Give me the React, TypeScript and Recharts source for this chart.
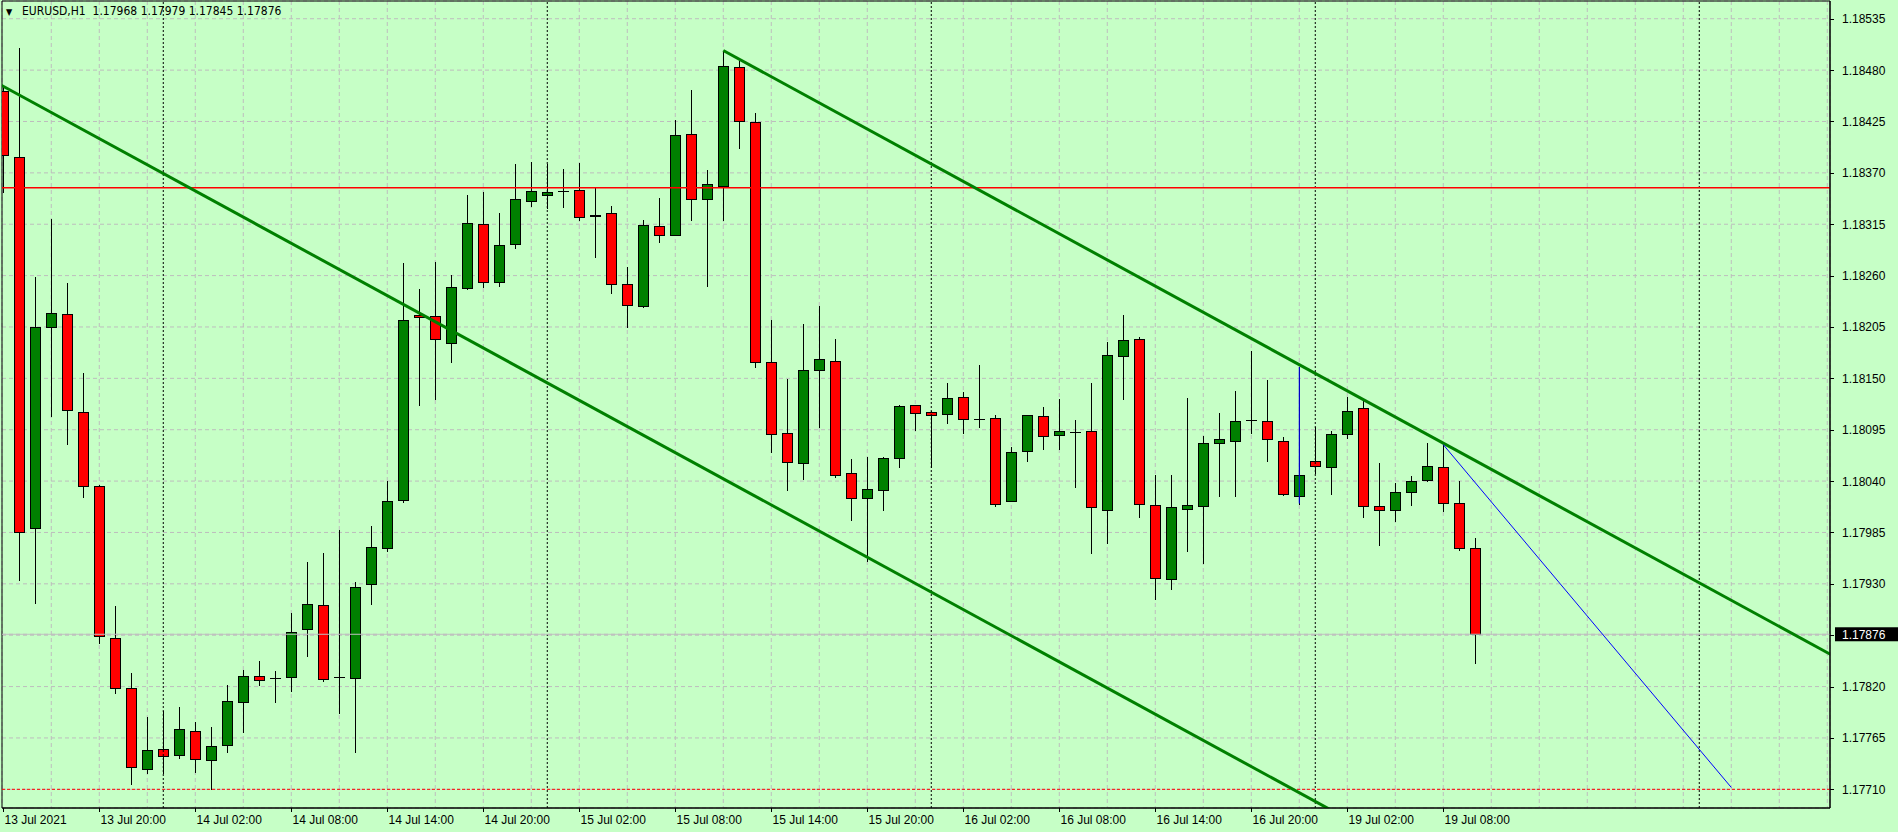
import React from "react";
import {
  Bar,
  CartesianGrid,
  ComposedChart,
  ReferenceArea,
  ReferenceLine,
  XAxis,
  YAxis,
} from "recharts";

// EURUSD H1, bar 0 = 13 Jul 14:00
const OPEN = [
  1.18458, 1.18387, 1.1799, 1.18205, 1.18219, 1.18114, 1.18035, 1.17872, 1.17819, 1.17732,
  1.17753, 1.17747, 1.17772, 1.17741, 1.17757, 1.17804, 1.17831, 1.17829, 1.1783, 1.17882,
  1.17907, 1.1783, 1.17829, 1.1793, 1.17968, 1.1802, 1.18218, 1.18217, 1.18188, 1.18247,
  1.18315, 1.18253, 1.18294, 1.1834, 1.18346, 1.18351, 1.18352, 1.18324, 1.18327, 1.18251,
  1.18227, 1.18313, 1.18304, 1.18412, 1.18342, 1.18356, 1.18483, 1.18424, 1.18167, 1.18092,
  1.18059, 1.18159, 1.18169, 1.18049, 1.18022, 1.1803, 1.18065, 1.18121, 1.18114, 1.18112,
  1.1813, 1.18107, 1.18108, 1.18019, 1.18072, 1.1811, 1.18089, 1.18093, 1.18094, 1.18009,
  1.18174, 1.18192, 1.18014, 1.17935, 1.1801, 1.18013, 1.18081, 1.18083, 1.18105, 1.18104,
  1.18083, 1.18024, 1.18062, 1.18055, 1.1809, 1.18118, 1.18013, 1.18009, 1.18028, 1.18041,
  1.18055, 1.18017, 1.17968,
];
const HIGH = [
  1.18462, 1.18504, 1.18258, 1.18321, 1.18252, 1.18156, 1.18036, 1.17906, 1.17835, 1.17787,
  1.17794, 1.17798, 1.17782, 1.17777, 1.17822, 1.17838, 1.17847, 1.17837, 1.17899, 1.17953,
  1.17963, 1.17988, 1.17932, 1.17992, 1.1804, 1.18274, 1.18246, 1.18275, 1.18261, 1.18346,
  1.1835, 1.18327, 1.1838, 1.18382, 1.1838, 1.18374, 1.18381, 1.18355, 1.18335, 1.18269,
  1.18319, 1.18343, 1.18427, 1.18459, 1.18373, 1.18501, 1.1849, 1.18434, 1.18212, 1.18149,
  1.18208, 1.18227, 1.18192, 1.18064, 1.18066, 1.18066, 1.18121, 1.18122, 1.18115, 1.18145,
  1.18135, 1.18164, 1.18111, 1.18077, 1.18111, 1.18119, 1.18128, 1.18105, 1.18145, 1.18189,
  1.18218, 1.18194, 1.18046, 1.18047, 1.18129, 1.18088, 1.18113, 1.18136, 1.18179, 1.18148,
  1.18087, 1.18162, 1.18098, 1.18094, 1.1813, 1.18128, 1.18059, 1.18038, 1.18045, 1.18081,
  1.18079, 1.1804, 1.17979,
];
const LOW = [
  1.1835, 1.17934, 1.1791, 1.1811, 1.1808, 1.18023, 1.17867, 1.17813, 1.17716, 1.17728,
  1.17728, 1.17743, 1.17729, 1.1771, 1.1775, 1.17771, 1.17822, 1.17804, 1.17815, 1.17853,
  1.17826, 1.17792, 1.1775, 1.17908, 1.17965, 1.18018, 1.18122, 1.18128, 1.18167, 1.18246,
  1.18248, 1.18249, 1.1829, 1.18335, 1.18332, 1.18333, 1.18319, 1.1828, 1.18241, 1.18205,
  1.18226, 1.18296, 1.18303, 1.18319, 1.18249, 1.18319, 1.18397, 1.18162, 1.18071, 1.1803,
  1.18042, 1.18098, 1.18044, 1.17998, 1.17954, 1.18009, 1.18055, 1.18095, 1.18055, 1.18102,
  1.18091, 1.18098, 1.18013, 1.18019, 1.18062, 1.18074, 1.18074, 1.18034, 1.17963, 1.17974,
  1.18128, 1.18002, 1.17914, 1.17924, 1.17965, 1.17952, 1.18024, 1.18024, 1.18091, 1.18062,
  1.18025, 1.18016, 1.18049, 1.18026, 1.18086, 1.18002, 1.17972, 1.17997, 1.18014, 1.1804,
  1.18008, 1.17966, 1.17845,
];
const CLOSE = [
  1.18389, 1.17986, 1.18205, 1.1822, 1.18116, 1.18035, 1.17874, 1.17819, 1.17734, 1.17752,
  1.17746, 1.17775, 1.17742, 1.17756, 1.17805, 1.17831, 1.17827, 1.17829, 1.17878, 1.17908,
  1.17828, 1.1783, 1.17927, 1.17969, 1.18019, 1.18212, 1.18216, 1.18192, 1.18248, 1.18316,
  1.18253, 1.18293, 1.18342, 1.18351, 1.18349, 1.18351, 1.18323, 1.18325, 1.18251, 1.18228,
  1.18314, 1.18304, 1.18411, 1.18342, 1.18358, 1.18484, 1.18425, 1.18167, 1.1809, 1.1806,
  1.18159, 1.18171, 1.18047, 1.18022, 1.18031, 1.18065, 1.1812, 1.18113, 1.18111, 1.18129,
  1.18107, 1.18107, 1.18015, 1.18071, 1.18111, 1.18088, 1.18094, 1.18093, 1.18012, 1.18175,
  1.18191, 1.18015, 1.17936, 1.18012, 1.18014, 1.18081, 1.18085, 1.18104, 1.18105, 1.18085,
  1.18026, 1.18046, 1.18056, 1.1809, 1.18115, 1.18013, 1.18009, 1.18028, 1.1804, 1.18056,
  1.18017, 1.17968, 1.17876,
];

const LABEL_INDEX = [0, 6, 12, 18, 24, 30, 36, 42, 48, 54, 60, 66, 72, 78, 84, 90];
const LABEL_TEXT = [
  "13 Jul 2021", "13 Jul 20:00", "14 Jul 02:00", "14 Jul 08:00", "14 Jul 14:00",
  "14 Jul 20:00", "15 Jul 02:00", "15 Jul 08:00", "15 Jul 14:00", "15 Jul 20:00",
  "16 Jul 02:00", "16 Jul 08:00", "16 Jul 14:00", "16 Jul 20:00", "19 Jul 02:00",
  "19 Jul 08:00",
];
const GRID_X = [
  0, 3, 6, 9, 12, 15, 18, 21, 24, 27, 30, 33, 36, 39, 42, 45, 48, 51, 54, 57, 60, 63, 66,
  69, 72, 75, 78, 81, 84, 87, 90, 93, 96, 99, 102, 105, 108, 111, 114,
];
const DAY_SEPARATORS = [10, 34, 58, 82, 106];

const PRICE_TICKS = [
  1.18535, 1.1848, 1.18425, 1.1837, 1.18315, 1.1826, 1.18205, 1.1815, 1.18095, 1.1804,
  1.17985, 1.1793, 1.17875, 1.1782, 1.17765, 1.1771,
];
const BID = 1.17876;
const RESISTANCE = 1.18354;
const SUPPORT = 1.1771;

// trend lines: [bar, price] pairs
const UPPER_TREND = [[45, 1.18501], [115, 1.17847]];
const LOWER_TREND = [[-1, 1.18472], [85, 1.17669]];
const BLUE_LINE = [[90, 1.18079], [108, 1.17712]];
const BLUE_MARK = [[81, 1.18162], [81, 1.18016]];

const X_DOMAIN: [number, number] = [-0.08, 114.17];
const Y_DOMAIN: [number, number] = [1.1769, 1.18554];

const BG = "#C6FFC6";
const FONT = "'Liberation Sans', Arial, sans-serif";
const TITLE_FONT = "'DejaVu Sans Condensed', 'DejaVu Sans', sans-serif";

const rows = OPEN.map((o, i) => ({
  i,
  open: o,
  high: HIGH[i],
  low: LOW[i],
  close: CLOSE[i],
  range: [LOW[i], HIGH[i]],
}));

const labelFor = (v: number) => {
  const k = LABEL_INDEX.indexOf(v);
  return k >= 0 ? LABEL_TEXT[k] : "";
};

function Candle(props: any) {
  const { x, y, width, height, payload } = props;
  if (x == null || !payload) return null;
  const cx = Math.round(x + width / 2) + 0.5;
  const top = Math.min(y, y + height);
  const h = Math.abs(height);
  const { open, close, high, low } = payload;
  const k = high === low ? 0 : h / (high - low);
  const yO = top + (high - open) * k;
  const yC = top + (high - close) * k;
  const b0 = Math.round(Math.min(yO, yC)) + 0.5;
  const b1 = Math.round(Math.max(yO, yC)) + 0.5;
  const doji = open === close;
  return (
    <g>
      <line x1={cx} x2={cx} y1={Math.round(top)} y2={Math.round(top + h) + 1} stroke="#000" strokeWidth={1} />
      {doji ? (
        <line x1={cx - 5.5} x2={cx + 5.5} y1={b0} y2={b0} stroke="#000" strokeWidth={1} />
      ) : (
        <rect
          x={cx - 5}
          y={b0}
          width={10}
          height={Math.max(b1 - b0, 1)}
          fill={close > open ? "#008000" : "#FF0000"}
          stroke="#000"
          strokeWidth={1}
        />
      )}
    </g>
  );
}

function TimeTick({ x, y, payload }: any) {
  const text = labelFor(payload.value);
  if (!text) return null;
  const px = Math.round(x) + 0.5;
  return (
    <g>
      <line x1={px} x2={px} y1={y} y2={y + 4} stroke="#000" />
      <text x={px + 1} y={y + 16} fontFamily={FONT} fontSize={12} fill="#000" textAnchor="start">
        {text}
      </text>
    </g>
  );
}

function PriceTick({ x, y, payload }: any) {
  const v = payload.value as number;
  if (v === BID) {
    return (
      <g>
        <rect x={x + 5} y={y - 7} width={63} height={14} fill="#000" />
        <text x={x + 12} y={y + 4.5} fontFamily={FONT} fontSize={12} fill="#fff" textAnchor="start">
          {v.toFixed(5)}
        </text>
      </g>
    );
  }
  const py = Math.round(y) + 0.5;
  return (
    <g>
      <line x1={x} x2={x + 4} y1={py} y2={py} stroke="#000" />
      <text x={x + 12} y={y + 4.5} fontFamily={FONT} fontSize={12} fill="#000" textAnchor="start">
        {v.toFixed(5)}
      </text>
    </g>
  );
}

const seg = (pts: number[][]) => pts.map(([x, y]) => ({ x, y }));

export default function App() {
  return (
    <div
      style={{
        position: "absolute",
        left: 0,
        top: 0,
        width: 1898,
        height: 832,
        background: BG,
        overflow: "hidden",
      }}
    >
      <ComposedChart
        width={1898}
        height={832}
        data={rows}
        margin={{ top: 1, right: 0, bottom: 0, left: 2 }}
      >
        <XAxis xAxisId="grid" dataKey="i" type="number" domain={X_DOMAIN} allowDataOverflow ticks={GRID_X} hide />
        <CartesianGrid xAxisId="grid" stroke="#BDBDBD" strokeDasharray="4 3" />
        <XAxis
          dataKey="i"
          type="number"
          domain={X_DOMAIN}
          allowDataOverflow
          ticks={LABEL_INDEX}
          interval={0}
          tick={<TimeTick />}
          tickLine={false}
          tickSize={0}
          tickMargin={0}
          height={24}
          axisLine={{ stroke: "#000" }}
        />
        <YAxis
          orientation="right"
          type="number"
          domain={Y_DOMAIN}
          allowDataOverflow
          ticks={[...PRICE_TICKS, BID]}
          interval={0}
          tick={<PriceTick />}
          tickLine={false}
          tickSize={0}
          tickMargin={0}
          width={68}
          axisLine={{ stroke: "#000" }}
        />
        {DAY_SEPARATORS.map((d) => (
          <ReferenceLine key={d} x={d} stroke="#000" strokeDasharray="2 2" ifOverflow="hidden" />
        ))}
        <ReferenceLine y={BID} stroke="#C0C0C0" strokeWidth={1} ifOverflow="hidden" />
        <Bar dataKey="range" barSize={10} shape={<Candle />} isAnimationActive={false} />
        <ReferenceLine y={RESISTANCE} stroke="#FF0000" strokeWidth={1.5} ifOverflow="hidden" />
        <ReferenceLine y={SUPPORT} stroke="#FF0000" strokeDasharray="3 2" ifOverflow="hidden" />
        <ReferenceLine segment={seg(UPPER_TREND)} stroke="#008000" strokeWidth={3} ifOverflow="hidden" />
        <ReferenceLine segment={seg(LOWER_TREND)} stroke="#008000" strokeWidth={3} ifOverflow="hidden" />
        <ReferenceLine segment={seg(BLUE_LINE)} stroke="#0000FF" strokeWidth={1} ifOverflow="hidden" />
        <ReferenceLine segment={seg(BLUE_MARK)} stroke="#0000FF" strokeWidth={1} ifOverflow="hidden" />
        <ReferenceArea
          x1={X_DOMAIN[0]}
          x2={X_DOMAIN[1]}
          y1={Y_DOMAIN[0]}
          y2={Y_DOMAIN[1]}
          fill="none"
          stroke="#000"
          strokeWidth={1}
          ifOverflow="visible"
        />
      </ComposedChart>
      <div
        style={{
          position: "absolute",
          left: 6,
          top: 4,
          fontFamily: TITLE_FONT,
          fontSize: 12,
          lineHeight: "14px",
          color: "#000",
          whiteSpace: "pre",
        }}
      >
        <span style={{ fontSize: 9, display: "inline-block", width: 16 }}>{"\u25BC"}</span>
        {"EURUSD,H1  1.17968 1.17979 1.17845 1.17876"}
      </div>
    </div>
  );
}
